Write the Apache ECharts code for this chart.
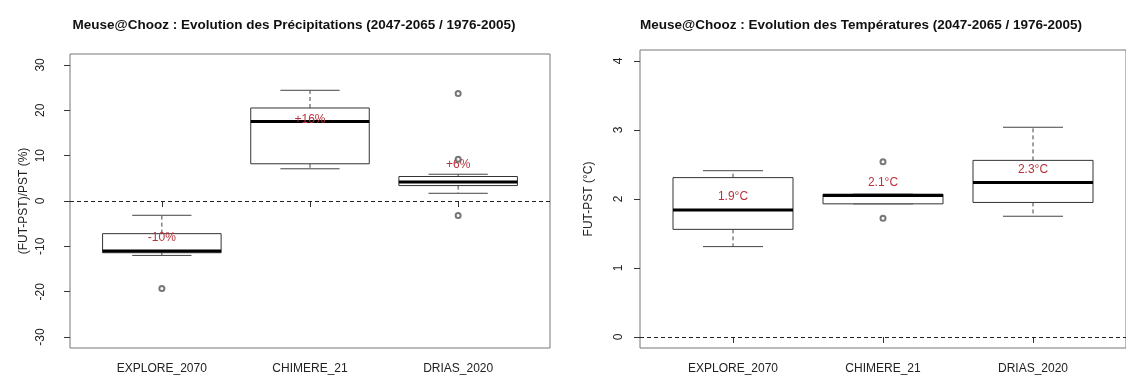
<!DOCTYPE html>
<html>
<head>
<meta charset="utf-8">
<script src="https://cdn.jsdelivr.net/npm/echarts@6/dist/echarts.min.js"></script>
<style>
  html, body { margin: 0; padding: 0; background: #fff; }
  #chart { width: 1126px; height: 378px; }
</style>
</head>
<body>
<div id="chart"></div>
<script>
// Model names on the x axis (positions 1, 2, 3)
const categories = ['EXPLORE_2070', 'CHIMERE_21', 'DRIAS_2020'];

// Precipitation change (%) : whisker ends, quartiles, medians, means, outliers
const precipLow    = [-12.0, 7.1, 1.7];
const precipQ1     = [-11.4, 8.2, 3.4];
const precipMedian = [-11.0, 17.5, 4.2];
const precipQ3     = [-7.2, 20.5, 5.4];
const precipHigh   = [-3.15, 24.4, 5.9];
const precipMean   = [-10, 16, 6];
const precipOutliers = [[1, -19.3], [3, 23.7], [3, 9.2], [3, -3.2]];
const precipTicks  = [-30, -20, -10, 0, 10, 20, 30];

// Temperature change (°C)
const tempLow    = [1.31, 1.93, 1.75];
const tempQ1     = [1.56, 1.93, 1.95];
const tempMedian = [1.84, 2.05, 2.24];
const tempQ3     = [2.31, 2.07, 2.56];
const tempHigh   = [2.41, 2.07, 3.04];
const tempMean   = [1.9, 2.1, 2.3];
const tempOutliers = [[2, 2.54], [2, 1.72]];
const tempTicks  = [0, 1, 2, 3, 4];

const FONT = '"Liberation Sans", Arial, sans-serif';
const INK = '#333';
const RED = '#b8323c';

function boxRows(lo, q1, med, q3, hi, mean) {
  return categories.map((c, i) => [i + 1, lo[i], q1[i], med[i], q3[i], hi[i], mean[i]]);
}

// Draws an R-style box: dashed whiskers, solid staples, thin box, thick median
function makeRenderBox(fmt) {
  return function (params, api) {
    const x = api.value(0);
    const lo = api.value(1), q1 = api.value(2), med = api.value(3), q3 = api.value(4), hi = api.value(5), mean = api.value(6);
    const half = api.size([0.4, 0])[0];
    const cap = api.size([0.2, 0])[0];
    const pLo = api.coord([x, lo]), pQ1 = api.coord([x, q1]), pMed = api.coord([x, med]);
    const pQ3 = api.coord([x, q3]), pHi = api.coord([x, hi]), pMean = api.coord([x, mean]);
    const cx = pMed[0];
    const dashed = { stroke: '#444', lineWidth: 1, lineDash: [4, 3] };
    const solid = { stroke: '#444', lineWidth: 1 };
    return {
      type: 'group',
      children: [
        { type: 'line', shape: { x1: cx, y1: pQ3[1], x2: cx, y2: pHi[1] }, style: dashed },
        { type: 'line', shape: { x1: cx, y1: pQ1[1], x2: cx, y2: pLo[1] }, style: dashed },
        { type: 'line', shape: { x1: cx - cap, y1: pHi[1], x2: cx + cap, y2: pHi[1] }, style: solid },
        { type: 'line', shape: { x1: cx - cap, y1: pLo[1], x2: cx + cap, y2: pLo[1] }, style: solid },
        { type: 'rect', shape: { x: cx - half, y: pQ3[1], width: 2 * half, height: pQ1[1] - pQ3[1] },
          style: { fill: '#fff', stroke: INK, lineWidth: 1 } },
        { type: 'line', shape: { x1: cx - half, y1: pMed[1], x2: cx + half, y2: pMed[1] },
          style: { stroke: '#000', lineWidth: 3 } },
        { type: 'text', x: cx, y: pMean[1] - 9,
          style: { text: fmt(mean), fill: RED, font: '12px ' + FONT, align: 'center', verticalAlign: 'middle' } }
      ]
    };
  };
}

const fmtPct = v => (v > 0 ? '+' : '') + v + '%';
const fmtDeg = v => v.toFixed(1) + '°C';

function xAxisFor(gridIndex) {
  return {
    gridIndex, type: 'value', min: 0.38, max: 3.62,
    axisLine: { show: false },
    splitLine: { show: false },
    axisTick: { show: true, length: 6, customValues: [1, 2, 3], lineStyle: { color: INK } },
    axisLabel: { customValues: [1, 2, 3], formatter: v => categories[Math.round(v) - 1],
      fontSize: 12, fontFamily: FONT, color: '#222', margin: 15 }
  };
}

function yAxisFor(gridIndex, min, max, ticks, name, labelMargin, nameGap) {
  return {
    gridIndex, type: 'value', min, max,
    axisLine: { show: false },
    splitLine: { show: false },
    axisTick: { show: true, length: 6, customValues: ticks, lineStyle: { color: INK } },
    axisLabel: { customValues: ticks, rotate: 90, fontSize: 12, fontFamily: FONT, color: '#222', margin: labelMargin },
    name, nameLocation: 'middle', nameGap,
    nameTextStyle: { fontSize: 12, fontFamily: FONT, color: '#222' }
  };
}

const zeroLine = {
  silent: true, symbol: ['none', 'none'],
  label: { show: false },
  lineStyle: { type: [4, 3], color: '#222', width: 1 },
  data: [{ yAxis: 0 }]
};

const titleStyle = { fontSize: 13.5, fontWeight: 'bold', fontFamily: FONT, color: '#111' };

const option = {
  animation: false,
  backgroundColor: '#fff',
  title: [
    { text: 'Meuse@Chooz : Evolution des Précipitations (2047-2065 / 1976-2005)',
      left: 289, top: 13, textAlign: 'center', textStyle: titleStyle },
    { text: 'Meuse@Chooz : Evolution des Températures (2047-2065 / 1976-2005)',
      left: 856, top: 13, textAlign: 'center', textStyle: titleStyle }
  ],
  grid: [
    { left: 70, top: 54, width: 480, height: 294, show: true, borderColor: '#777', borderWidth: 1, backgroundColor: 'transparent' },
    { left: 640, top: 50, width: 486, height: 298, show: true, borderColor: '#777', borderWidth: 1, backgroundColor: 'transparent' }
  ],
  xAxis: [xAxisFor(0), xAxisFor(1)],
  yAxis: [
    yAxisFor(0, -32.4, 32.4, precipTicks, '(FUT-PST)/PST (%)', 23, 40),
    yAxisFor(1, -0.16, 4.16, tempTicks, 'FUT-PST (°C)', 15, 45)
  ],
  series: [
    { type: 'custom', xAxisIndex: 0, yAxisIndex: 0, renderItem: makeRenderBox(fmtPct),
      data: boxRows(precipLow, precipQ1, precipMedian, precipQ3, precipHigh, precipMean),
      markLine: zeroLine, z: 2 },
    { type: 'scatter', xAxisIndex: 0, yAxisIndex: 0, data: precipOutliers,
      symbol: 'emptyCircle', symbolSize: 5, itemStyle: { color: '#555', borderColor: '#555', borderWidth: 0.8 }, z: 3 },
    { type: 'custom', xAxisIndex: 1, yAxisIndex: 1, renderItem: makeRenderBox(fmtDeg),
      data: boxRows(tempLow, tempQ1, tempMedian, tempQ3, tempHigh, tempMean),
      markLine: zeroLine, z: 2 },
    { type: 'scatter', xAxisIndex: 1, yAxisIndex: 1, data: tempOutliers,
      symbol: 'emptyCircle', symbolSize: 5, itemStyle: { color: '#555', borderColor: '#555', borderWidth: 0.8 }, z: 3 }
  ]
};

const chart = echarts.init(document.getElementById('chart'), null, { renderer: 'canvas' });
chart.setOption(option);
</script>
</body>
</html>
